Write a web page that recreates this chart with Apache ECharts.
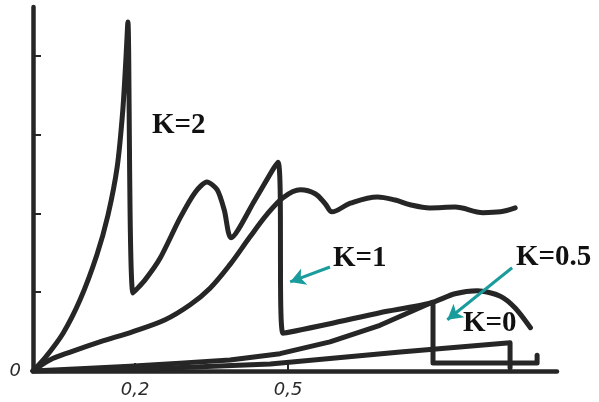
<!DOCTYPE html>
<html>
<head>
<meta charset="utf-8">
<script src="https://cdn.jsdelivr.net/npm/echarts@6/dist/echarts.min.js"></script>
<style>
  html, body { margin: 0; padding: 0; background: #fff; }
  #chart { width: 599px; height: 402px; }
</style>
</head>
<body>
<div id="chart"></div>
<script>
// curve K=2 : spike, drop, hump, second spike, drop, arch
const curveK2 = [
  [0, 0], [0.024, 0.17], [0.059, 0.48], [0.092, 0.90], [0.125, 1.47], [0.147, 1.98],
  [0.165, 2.59], [0.176, 3.31], [0.182, 3.95], [0.186, 4.43], [0.196, 0.99],
  [0.22, 1.16], [0.249, 1.43], [0.288, 1.94], [0.318, 2.27], [0.341, 2.40],
  [0.361, 2.30], [0.375, 2.04], [0.388, 1.69], [0.435, 2.17], [0.480, 2.65],
  [0.490, 0.48], [0.582, 0.60], [0.680, 0.74], [0.778, 0.86], [0.827, 0.98],
  [0.871, 1.02], [0.916, 0.95], [0.945, 0.80], [0.975, 0.55]
]
// smooth curve running into the wavy top line
const curveK1 = [
  [0, 0], [0.033, 0.14], [0.073, 0.24], [0.131, 0.37], [0.196, 0.50], [0.259, 0.65],
  [0.308, 0.84], [0.347, 1.05], [0.386, 1.35], [0.425, 1.70], [0.459, 1.99],
  [0.490, 2.20], [0.524, 2.30], [0.553, 2.25], [0.573, 2.12], [0.586, 2.02],
  [0.622, 2.13], [0.675, 2.21], [0.710, 2.17], [0.739, 2.11], [0.778, 2.07],
  [0.827, 2.08], [0.882, 2.01], [0.916, 2.02], [0.945, 2.07]
]
// low curve with the step
const curveK05 = [
  [0, 0], [0.092, 0.03], [0.190, 0.06], [0.288, 0.10], [0.386, 0.14], [0.484, 0.22],
  [0.582, 0.37], [0.680, 0.58], [0.778, 0.86], [0.784, 0.86], [0.784, 0.10],
  [0.988, 0.10], [0.988, 0.20]
]
// lowest curve
const curveK0 = [
  [0, 0], [0.229, 0.03], [0.465, 0.09], [0.72, 0.24], [0.935, 0.36], [0.935, 0.04]
]
const xTicks = [0.2, 0.5]
const yTicks = [1, 2, 3, 4]
// arrows: [from, to]
const arrowK1 = [[0.582, 1.32], [0.504, 1.13]]
const arrowK05 = [[0.939, 1.31], [0.812, 0.65]]

const ink = '#262626'
const teal = '#1b9c9c'

function curve(name, data, smooth) {
  return {
    name: name,
    type: 'line',
    data: data,
    showSymbol: false,
    smooth: smooth,
    lineStyle: { color: ink, width: 5, join: 'round', cap: 'round' },
    z: 3
  }
}

const chart = echarts.init(document.getElementById('chart'))
const series = [
  curve('K=2', curveK2, 0.25),
  curve('K=1', curveK1, 0.35),
  curve('K=0.5', curveK05, false),
  curve('K=0', curveK0, false)
]
series[0].markLine = {
  silent: true,
  symbol: ['none', 'arrow'],
  symbolSize: [13, 15],
  label: { show: false },
  lineStyle: { color: teal, width: 3, type: 'solid' },
  data: [
    [{ coord: arrowK1[0] }, { coord: arrowK1[1] }],
    [{ coord: arrowK05[0] }, { coord: arrowK05[1] }]
  ]
}

const labelFont = 'bold 29px "Liberation Serif", "DejaVu Serif", serif'

chart.setOption({
  animation: false,
  backgroundColor: '#fff',
  grid: { left: 33, right: 42, top: 7, bottom: 31 },
  xAxis: {
    type: 'value',
    min: 0,
    max: 1.027,
    axisLine: { lineStyle: { color: ink, width: 4.5 } },
    axisTick: { show: true, inside: true, length: 8, customValues: xTicks, lineStyle: { color: ink, width: 2 } },
    axisLabel: {
      customValues: xTicks,
      formatter: v => String(v).replace('.', ','),
      fontStyle: 'italic',
      fontFamily: 'DejaVu Sans',
      fontSize: 18,
      color: '#2a2a2a',
      margin: 10
    },
    splitLine: { show: false }
  },
  yAxis: {
    type: 'value',
    min: 0,
    max: 4.62,
    axisLine: { show: true, lineStyle: { color: ink, width: 4.5 } },
    axisTick: { show: true, inside: true, length: 8, customValues: yTicks, lineStyle: { color: ink, width: 2 } },
    axisLabel: {
      customValues: [0],
      formatter: () => '0',
      fontStyle: 'italic',
      fontFamily: 'DejaVu Sans',
      fontSize: 18,
      color: '#2a2a2a',
      margin: 12
    },
    splitLine: { show: false }
  },
  graphic: [
    { type: 'text', left: 152, top: 111, style: { text: 'K=2', font: labelFont, fill: '#111' } },
    { type: 'text', left: 333, top: 244, style: { text: 'K=1', font: labelFont, fill: '#111' } },
    { type: 'text', left: 516, top: 243, style: { text: 'K=0.5', font: labelFont, fill: '#111' } },
    { type: 'text', left: 463, top: 309, style: { text: 'K=0', font: labelFont, fill: '#111' } }
  ],
  series: series
})
</script>
</body>
</html>
